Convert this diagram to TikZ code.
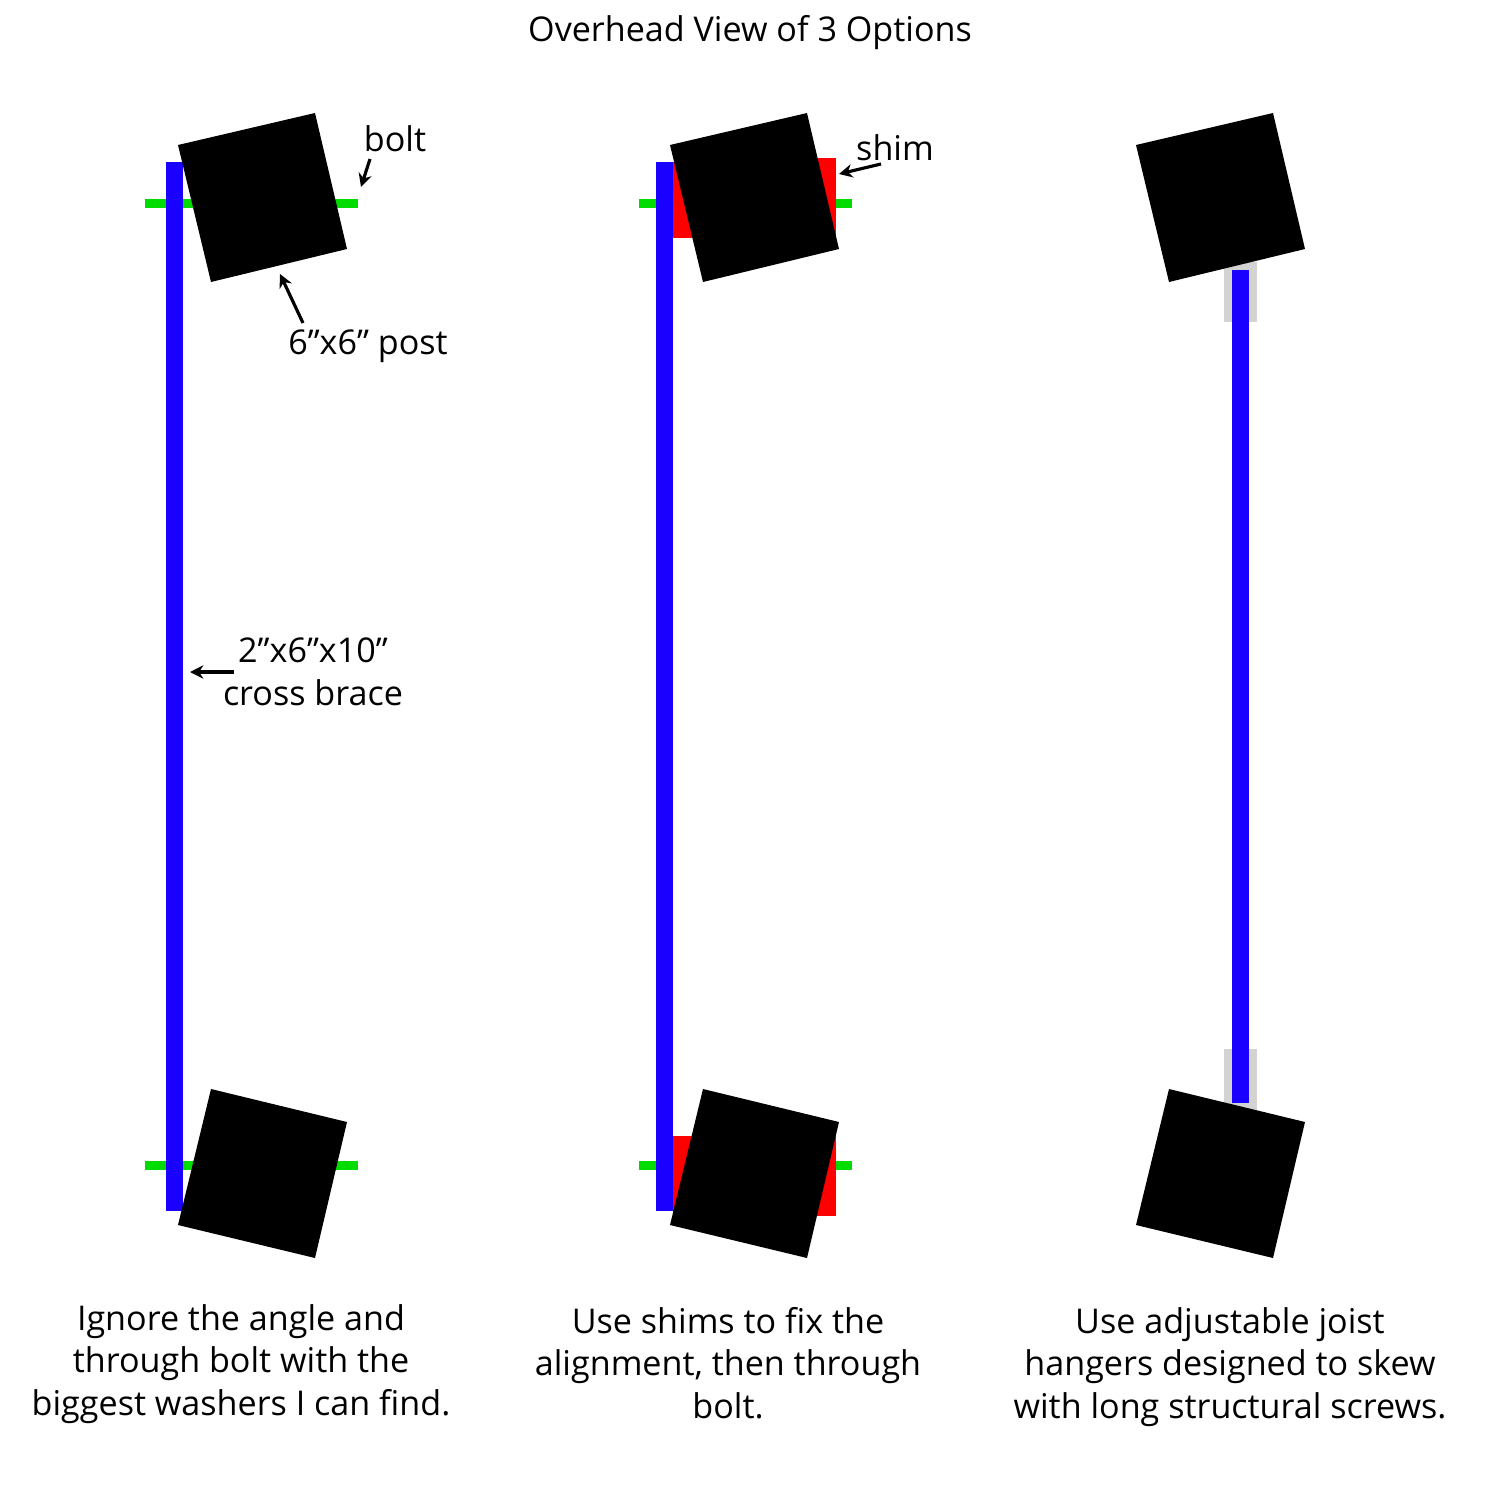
\documentclass[tikz,border=0pt]{standalone}
\usepackage{fontspec}
\setmainfont{Open Sans}
\usetikzlibrary{arrows.meta}
\definecolor{boltgreen}{RGB}{0,220,0}
\definecolor{hangergray}{RGB}{211,211,211}
\definecolor{bracebl}{RGB}{26,0,255}
\tikzset{
  x=0.01cm,y=-0.01cm,
  post/.style={fill=black,draw=none},
  lbl/.style={font=\fontsize{9.7pt}{12.1pt}\selectfont,inner sep=0pt,align=center,anchor=center,text=black},
  ptr/.style={draw=black,line width=0.9pt,-{Stealth[length=3.8pt,width=3.8pt]}}
}
\begin{document}
\begin{tikzpicture}
\useasboundingbox (0,0) rectangle (1500,1500);
\node[lbl] (title) at (750,33) {Overhead View of 3 Options};
% option 1
\fill[boltgreen] (145,199) rectangle (358,208);
\fill[boltgreen] (145,1161) rectangle (358,1170);
\fill[bracebl] (166,162) rectangle (183,1211);
\fill[post] (178,145) -- (315,113) -- (347,249) -- (211,282) -- cycle;
\fill[post] (211,1089) -- (347,1122) -- (315,1258) -- (178,1225) -- cycle;
% option 2
\fill[boltgreen] (639,199) rectangle (852,208);
\fill[boltgreen] (639,1161) rectangle (852,1170);
\fill[red] (673,162) rectangle (700,238);
\fill[red] (800,158) rectangle (836,240);
\fill[red] (673,1136) rectangle (700,1212);
\fill[red] (800,1134) rectangle (836,1216);
\fill[bracebl] (656,162) rectangle (673,1211);
\fill[post] (670,145) -- (807,113) -- (839,249) -- (703,282) -- cycle;
\fill[post] (703,1089) -- (839,1122) -- (807,1258) -- (670,1225) -- cycle;
% option 3
\fill[hangergray] (1224,262) rectangle (1257,322);
\fill[hangergray] (1224,1049) rectangle (1257,1110);
\fill[bracebl] (1232,270) rectangle (1249,1103);
\fill[post] (1136,145) -- (1273,113) -- (1305,249) -- (1169,282) -- cycle;
\fill[post] (1169,1089) -- (1305,1122) -- (1273,1258) -- (1136,1225) -- cycle;
% labels
\node[lbl] (bolt) at (395,139) {bolt};
\node[lbl] (post) at (368,346) {6”x6” post};
\node[lbl] (cb) at (313,672) {2”x6”x10”\\cross brace};
\node[lbl] (shim) at (895,148) {shim};
\node[lbl] (c1) at (241,1364) {Ignore the angle and\\through bolt with the\\biggest washers I can find.};
\node[lbl] (c2) at (728,1363) {Use shims to fix the\\alignment, then through\\bolt.};
\node[lbl] (c3) at (1230,1367) {Use adjustable joist\\hangers designed to skew\\with long structural screws.};
\coordinate (a1s) at (370,159); \coordinate (a1e) at (361,187);
\coordinate (a2s) at (303,323); \coordinate (a2e) at (280,274);
\coordinate (a3s) at (234,672); \coordinate (a3e) at (190,672);
\coordinate (a4s) at (881,164); \coordinate (a4e) at (839,174);
\draw[ptr] (a1s) -- (a1e);
\draw[ptr] (a2s) -- (a2e);
\draw[ptr] (a3s) -- (a3e);
\draw[ptr] (a4s) -- (a4e);
\end{tikzpicture}
\end{document}
